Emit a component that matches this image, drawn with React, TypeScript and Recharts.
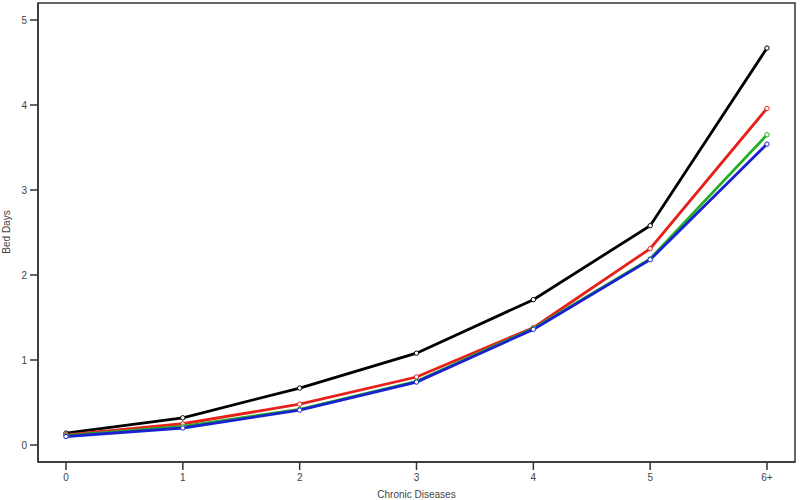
import { LineChart, Line, XAxis, YAxis, Label } from 'recharts';

const categories = ['0', '1', '2', '3', '4', '5', '6+'];
const seriesA = [0.14, 0.32, 0.67, 1.08, 1.71, 2.58, 4.67];
const seriesB = [0.12, 0.25, 0.48, 0.8, 1.38, 2.31, 3.96];
const seriesC = [0.11, 0.22, 0.42, 0.75, 1.37, 2.19, 3.65];
const seriesD = [0.1, 0.2, 0.41, 0.74, 1.36, 2.18, 3.54];
const yTicks = [0, 1, 2, 3, 4, 5];

const data = categories.map((c, i) => ({
  cat: c,
  a: seriesA[i],
  b: seriesB[i],
  c: seriesC[i],
  d: seriesD[i],
}));

const FRAME = '#333333';
const TEXT = '#444444';
const FONT = '"Liberation Sans", Arial, sans-serif';

const series = [
  { key: 'a', color: '#000000' },
  { key: 'b', color: '#e8201a' },
  { key: 'c', color: '#22b022' },
  { key: 'd', color: '#1a22d0' },
];

// plot box, matches margins + axis sizes below
const box = { x: 38, y: 3, w: 757, h: 459 };

export default function App() {
  return (
    <div style={{ position: 'absolute', left: 0, top: 0, width: 800, height: 500, background: '#fff', fontFamily: FONT }}>
      <LineChart width={800} height={500} data={data} margin={{ top: 3, right: 5, bottom: 0, left: 0 }}>
        <XAxis
          dataKey="cat"
          height={38}
          padding={{ left: 28, right: 28 }}
          stroke={FRAME}
          strokeWidth={1.5}
          tickSize={8}
          tickMargin={4}
          tick={{ fill: TEXT, fontSize: 10 }}
        >
          <Label value="Chronic Diseases" position="insideBottom" offset={2} style={{ fill: TEXT, fontSize: 10 }} />
        </XAxis>
        <YAxis
          width={38}
          type="number"
          domain={[-0.2, 5.2]}
          ticks={yTicks}
          stroke={FRAME}
          strokeWidth={1.5}
          tickSize={8}
          tickMargin={3}
          tick={{ fill: TEXT, fontSize: 10 }}
        >
          <Label
            content={() => (
              <text x={10} y={232} transform="rotate(-90 10 232)" textAnchor="middle" fill={TEXT} fontSize={10}>
                Bed Days
              </text>
            )}
          />
        </YAxis>
        {series.map((s) => (
          <Line
            key={s.key}
            dataKey={s.key}
            type="linear"
            stroke={s.color}
            strokeWidth={2.8}
            dot={{ r: 2.2, fill: '#ffffff', stroke: s.color, strokeWidth: 1 }}
            isAnimationActive={false}
          />
        ))}
      </LineChart>
      <svg width={800} height={500} style={{ position: 'absolute', left: 0, top: 0, pointerEvents: 'none' }}>
        <rect x={box.x} y={box.y} width={box.w} height={box.h} fill="none" stroke={FRAME} strokeWidth={1.5} />
      </svg>
    </div>
  );
}
